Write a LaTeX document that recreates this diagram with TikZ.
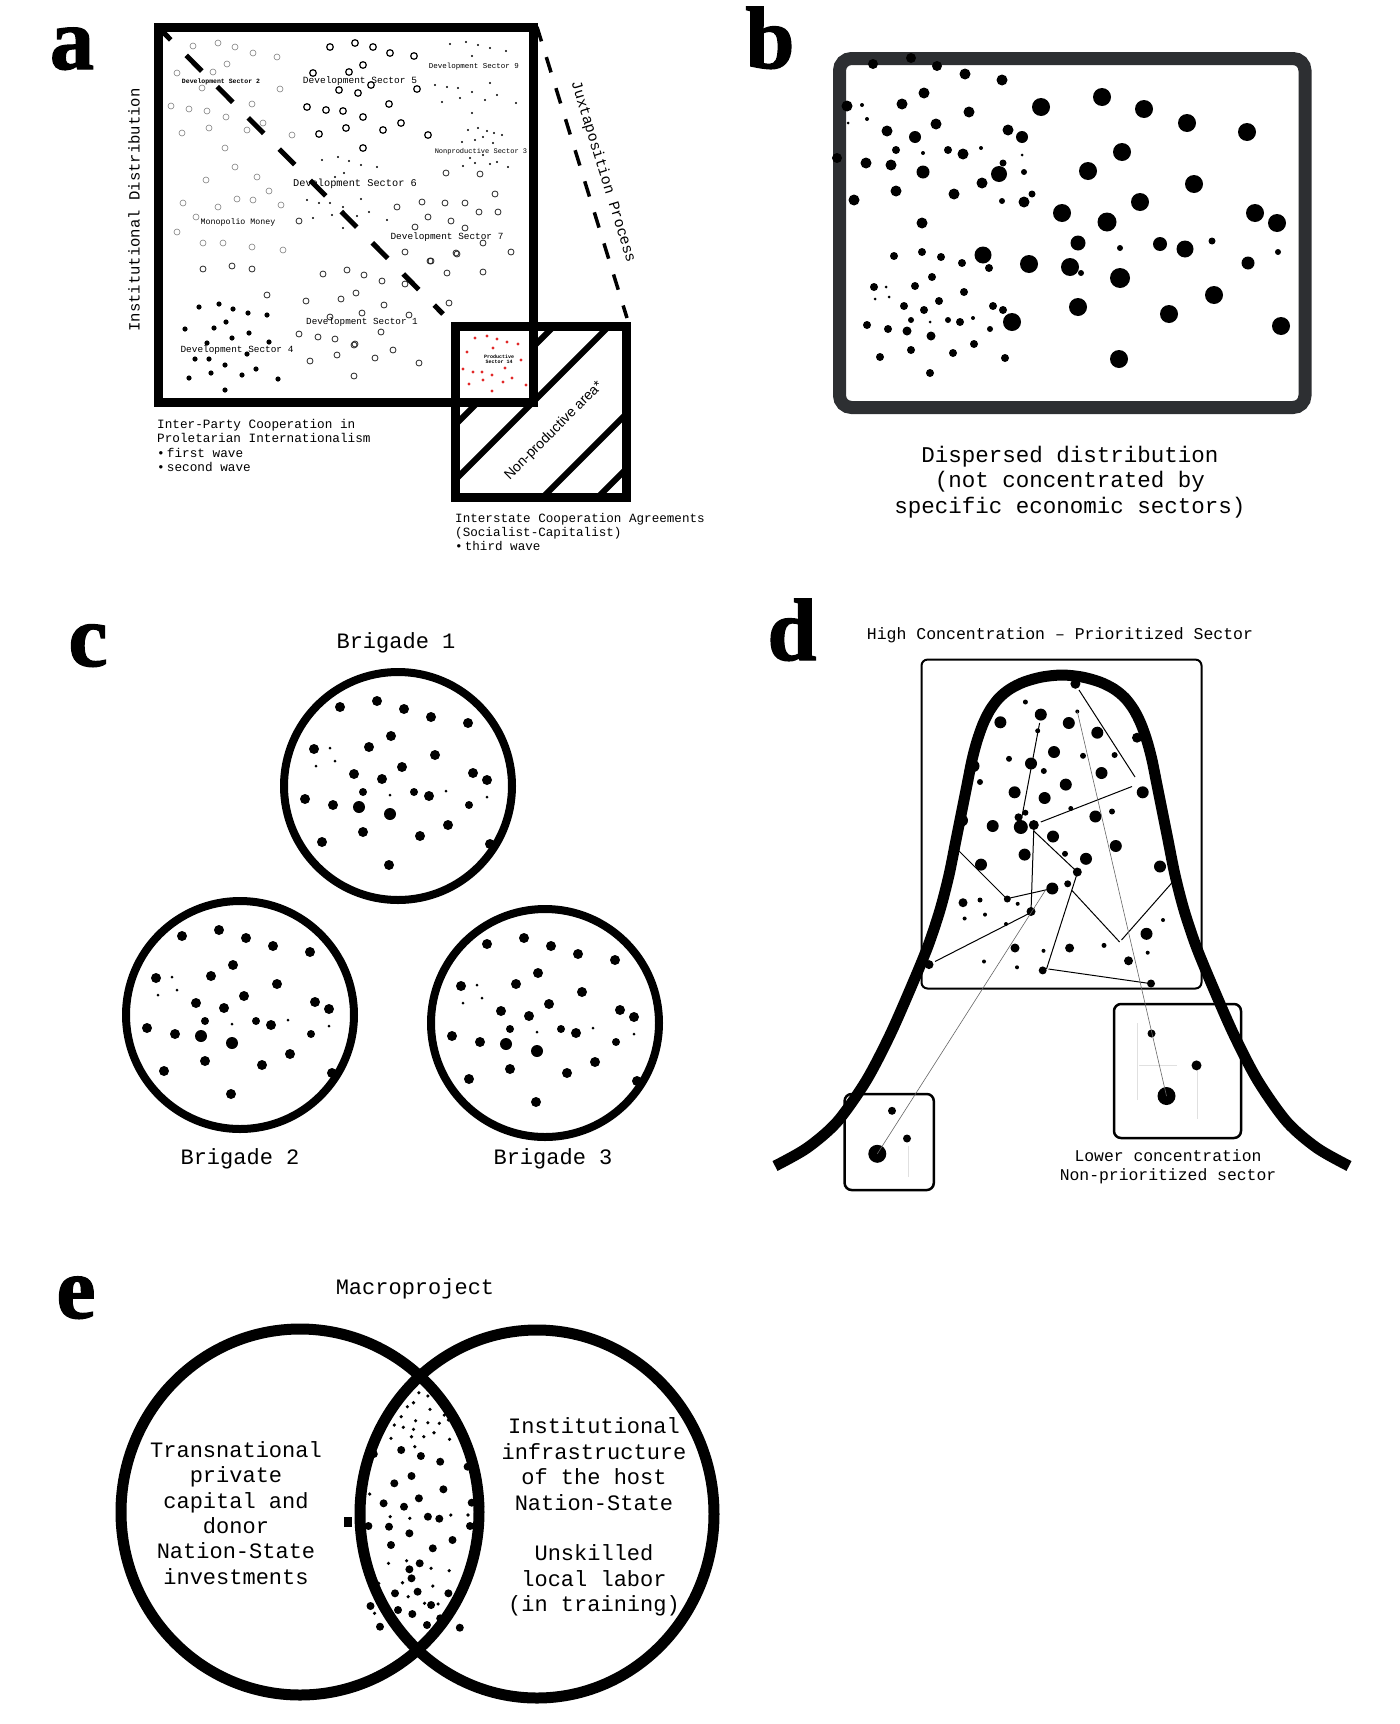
\documentclass[tikz,border=0pt]{standalone}
\usepackage{fontspec}
\setmainfont{Liberation Serif}
\setmonofont{Liberation Mono}
\newfontfamily\sansf{Liberation Sans}
\newfontfamily\lblf{Liberation Serif}[BoldFeatures={FakeBold=1.6}]
\definecolor{bgray}{RGB}{45,47,50}
\definecolor{dred}{RGB}{225,40,40}
\begin{document}
\begin{tikzpicture}[x=1pt,y=-1pt,
  plabel/.style={font=\lblf\bfseries\fontsize{88}{88}\selectfont, inner sep=0, anchor=base, text height=0.66em, text depth=0pt},
  mono/.style={font=\ttfamily, inner sep=0},
  tiny/.style={font=\ttfamily\bfseries, inner sep=0},
  hol/.style={draw=black, line width=1.2pt},
  holf/.style={draw=black!50, line width=0.6pt},
  holm/.style={draw=black!85, line width=0.8pt},
  hatch/.style={line width=6pt},
  thinlink/.style={line width=1pt},
  faintlink/.style={line width=0.6pt, draw=black!60},
  ghost/.style={line width=1pt, draw=black!12},
]
\useasboundingbox[fill=white] (0,0) rectangle (1400,1724);

% ---------------- panel labels
\node[plabel] (la) at (72,69) {a};
\node[plabel] (lb) at (770,68) {b};
\node[plabel] (lc) at (88,666) {c};
\node[plabel] (ld) at (792,660) {d};
\node[plabel] (le) at (76,1318) {e};

% ================= PANEL A
% hatched small square
\begin{scope}
  \clip (455,326) rectangle (626,497);
  \foreach \cc in {880,935,1040,1095}
    \draw[hatch] ({\cc-700},700) -- (700,{\cc-700});
\end{scope}
\fill[white] (455,326) rectangle (533,402);
\foreach \x/\y in {475/338,487/336,497/339,507/342,518/344,493/348,467/352,521/360,463/369,473/372,482/372,492/375,505/368,512/378,469/384,483/380,503/382,492/391,526/385}
  \fill[dred] (\x,\y) circle[radius=1.6pt];
\node[tiny, align=center, font=\ttfamily\bfseries\fontsize{5}{5.5}\selectfont] (ps14) at (499,359) {Productive\\Sector 14};
\node[font=\sansf\fontsize{14}{14}\selectfont, rotate=45, inner sep=0] (npa) at (554,431) {Non-productive area*};

% circles in big square
\foreach \x/\y in {330/47,355/43,373/47,390/53,414/56,363/65,313/73,349/72,371/85,339/90,358/93,417/89,307/107,326/110,343/111,389/104,363/117,401/123,346/128,319/134,383/130,428/135,363/148}
  \draw[hol] (\x,\y) circle[radius=3.3pt];
\foreach \x/\y in {193/46,218/43,235/47,253/53,277/57,227/64,177/73,213/72,202/88,280/89,171/106,189/109,207/111,226/117,252/104,209/128,182/133,247/130,263/123,292/135,225/148,235/167,206/180,257/177,269/191,183/203,218/207,237/199,253/200,281/205,196/217,177/232,203/243,223/243,252/247,283/250}
  \draw[holf] (\x,\y) circle[radius=3pt];
\foreach \x/\y in {446/173,480/174,495/194,422/202,445/203,465/203,397/207,428/217,451/221,479/212,498/212,415/227,465/228,483/243,405/252,430/261,456/253,511/252,299/221,203/269,232/266,252/269,267/295,323/274,347/270,364/275,382/281,405/284,356/293,306/301,341/299,384/305,449/303,362/313,330/317,409/315,299/334,318/337,335/339,381/332,355/344,447/273,483/272,431/261,457/254,310/361,337/355,375/358,393/350,419/363,354/376,354/345}
  \draw[holm] (\x,\y) circle[radius=3pt];
\foreach \x/\y in {450/44,466/42,478/45,490/48,506/51,472/56,435/85,447/87,458/88,472/92,490/83,442/102,460/98,485/100,497/95,516/103,472/113,468/130,478/128,487/131,494/133,502/135,462/142,475/140,483/137,493/143,463/166,475/163,490/164,497/162,508/167,483/155,470/158,322/160,338/157,349/161,361/165,377/167,344/173,335/177,307/200,319/203,330/203,361/199,343/207,313/218,332/215,357/216,369/212,387/220,343/228}
  \fill (\x,\y) circle[radius=1.2pt];
\foreach \x/\y in {199/307,219/304,233/309,248/313,267/315,185/329,214/328,226/322,249/333,232/338,207/343,269/342,195/359,209/359,225/365,247/354,256/369,189/378,211/373,242/375,278/379,225/390}
  \fill (\x,\y) circle[radius=2.6pt];

% sector labels
\node[tiny, font=\ttfamily\bfseries\fontsize{6.5}{6.5}\selectfont] (s2) at (221,82) {Development Sector 2};
\node[tiny, font=\ttfamily\fontsize{9.5}{9.5}\selectfont] (s5) at (360,81) {Development Sector 5};
\node[tiny, font=\ttfamily\fontsize{7.5}{7.5}\selectfont] (s9) at (474,67) {Development Sector 9};
\node[tiny, font=\ttfamily\fontsize{7}{7}\selectfont] (s3) at (481,152) {Nonproductive Sector 3};
\node[tiny, font=\ttfamily\fontsize{10.3}{10.3}\selectfont] (s6) at (355,184) {Development Sector 6};
\node[tiny, font=\ttfamily\fontsize{8.3}{8.3}\selectfont] (mm) at (238,222) {Monopolio Money};
\node[tiny, font=\ttfamily\fontsize{9.4}{9.4}\selectfont] (s7) at (447,237) {Development Sector 7};
\node[tiny, font=\ttfamily\fontsize{9.3}{9.3}\selectfont] (s1) at (362,322) {Development Sector 1};
\node[tiny, font=\ttfamily\fontsize{9.4}{9.4}\selectfont] (s4) at (237,350) {Development Sector 4};

% dashed diagonal
\draw[line width=5pt, dash pattern=on 22pt off 22pt, dash phase=11pt] (163,32) -- (443,314);
% squares
\draw[line width=9pt] (158.5,27.5) rectangle (533,402);
\draw[line width=9pt] (455,326) rectangle (626,497);
% juxtaposition
\coordinate (j1) at (537,27);
\coordinate (j2) at (627,318);
\draw[line width=3.5pt, dash pattern=on 16pt off 16.5pt, dash phase=1pt] (j1) -- (j2);
\node[mono, font=\ttfamily\fontsize{15}{15}\selectfont, rotate=-72.8] (jux) at (603,172) {Juxtaposition Process};
\node[mono, font=\ttfamily\fontsize{15.6}{15.6}\selectfont, rotate=90] (inst) at (134,210) {Institutional Distribution};
% bottom texts
\node[mono, anchor=north west, align=left, font=\ttfamily\fontsize{12.7}{14.3}\selectfont] (ipc) at (157,419)
 {Inter-Party Cooperation in\\Proletarian Internationalism\\\textbullet\,first wave\\\textbullet\,second wave};
\node[mono, anchor=north west, align=left, font=\ttfamily\fontsize{12.6}{14.3}\selectfont] (ica) at (455,513)
 {Interstate Cooperation Agreements\\(Socialist-Capitalist)\\\textbullet\,third wave};

% ================= PANEL B
\draw[line width=13pt, draw=bgray, rounded corners=12pt] (839.5,58.5) rectangle (1305,407.5);
\foreach \x/\y/\rr in {873/64/5,911/58/5,937/66/5,965/74/5.5,1002/80/5.5,924/93/5.5,847/106/5.5,862/105/2,867/119/2,848/123/1.5,902/104/5.5,969/112/5.5,887/131/5.5,915/137/6,936/124/5.5,1008/130/5.5,1022/137/6,896/150/4,948/150/4,963/154/5.5,981/148/2,923/153/2,1022/155/1.5,837/158/5,866/163/5.5,891/165/5.5,923/172/6.5,999/174/8,1003/163/3.5,1024/172/3,982/183/5.5,896/191/5.5,954/194/5.5,854/200/5.5,1002/201/3,1024/202/5.5,1032/194/3.5,1041/107/9,1102/97/9,1144/109/9,1187/123/9,1247/132/9,1122/152/9,1088/171/9,1194/184/9,1140/202/9,1062/213/9,1107/222/9.5,1255/213/9,1277/223/9,922/223/5.5,1078/243/7.5,1120/248/3,1160/244/7,1185/249/8.5,1212/241/3.5,1278/252/3,1248/263/6.5,983/255/8.5,989/268/4,1029/264/9,1070/267/9,1081/273/3,1120/278/10,1214/295/9,1078/307/9,1169/314/9,1281/326/9,1119/359/9,894/256/4,922/252/4,941/257/4,962/263/4,932/277/4,915/286/4,874/287/4,886/287/1.5,875/299/1.5,889/297/1.5,964/292/4,939/301/4,904/306/4,924/310/4,993/306/4,1003/310/4,1012/322/9,867/325/4,888/329/4,907/331/4.5,911/320/3,930/322/1.5,948/320/3,960/322/4,973/318/2,931/336/4.5,990/329/3,974/344/4,911/350/4,953/353/4,880/357/4,1005/358/4,930/373/4}
  \fill (\x,\y) circle[radius=\rr pt];
\node[mono, align=center, font=\ttfamily\fontsize{22.5}{25.7}\selectfont] (dd) at (1070,482)
 {Dispersed distribution\\(not concentrated by\\specific economic sectors)};

% ================= PANEL C
\newcommand\brigdots[2]{%
  \foreach \dx/\dy/\rr in {-58/-79/5,-21/-85/5,6/-77/5,33/-69/5,70/-63/5,-7/-50/5,-84/-37/5,-68/-38/1.5,-29/-39/5,-82/-20/1.5,-63/-25/1.5,37/-31/5,4/-19/5,-44/-12/5,-16/-7/5,75/-13/5,89/-6/5,-93/13/5,-35/6/4,-8/9/1.5,16/6/4,31/10/5,48/5/1.5,71/19/4,89/11/1.5,-65/19/5,-39/21/6,-8/28/6,50/39/5,-35/46/5,22/50/5,-76/56/5,92/58/5,-9/79/5}
    \fill ({#1+\dx},{#2+\dy}) circle[radius=\rr pt];}
\draw[line width=8pt] (398,786) circle[radius=114pt];
\draw[line width=8pt] (240,1015) circle[radius=114pt];
\draw[line width=8pt] (545,1023) circle[radius=114pt];
\brigdots{398}{786}
\brigdots{240}{1015}
\brigdots{545}{1023}
\node[mono, font=\ttfamily\fontsize{22}{22}\selectfont] (b1) at (396,643) {Brigade 1};
\node[mono, font=\ttfamily\fontsize{22}{22}\selectfont] (b2) at (240,1159) {Brigade 2};
\node[mono, font=\ttfamily\fontsize{22}{22}\selectfont] (b3) at (553,1159) {Brigade 3};

% ================= PANEL D
\node[mono, font=\ttfamily\fontsize{16.5}{16.5}\selectfont] (hc) at (1060,635) {High Concentration – Prioritized Sector};
\draw[line width=2pt, rounded corners=6pt] (921.5,659.6) rectangle (1201.5,988.5);
\draw[line width=2.5pt, rounded corners=7pt] (844.6,1094) rectangle (933.8,1190);
\draw[line width=2.5pt, rounded corners=7pt] (1114,1004) rectangle (1241,1138);
\draw[ghost] (1137,1023) -- (1137,1100);
\draw[ghost] (1197.7,1065) -- (1197.7,1119);
\draw[ghost] (1139,1065) -- (1177,1065);
\draw[ghost] (908,1146) -- (908,1177);
\draw[line width=11pt] plot[smooth, tension=0.5] coordinates {
 (775,1166) (807,1148) (837,1122) (866,1081) (890,1035) (912,985) (928,946) (940,910) (949,875) (956,840) (962,810) (967,785) (972,760) (977,741) (983,724) (990,710) (999,698) (1010,689) (1024,682) (1042,677) (1062,675)
 (1082,677) (1100,682) (1114,689) (1125,698) (1134,710) (1141,724) (1147,741) (1152,760) (1157,785) (1162,810) (1168,840) (1175,875) (1184,910) (1196,946) (1212,985) (1234,1035) (1258,1081) (1287,1122) (1317,1148) (1349,1166)};
\foreach \x/\y/\rr in {1075.4/683.8/5,1025.4/702/2.5,1040.8/714.6/6,1000.4/722.3/6,1068.8/723/6,1097.3/732.7/6,1077.3/711.5/2,1037.7/730.8/2.5,1137/737.7/5,1054/752/6,1009/758.8/3,1083/755.8/3,1114.6/755/3,1031/763.5/6,973.5/766/6,1043.8/771/3,1101.5/773/6,980/782/3,1065.8/784.6/6,1014.6/792.3/6,1044.6/798/6,1142.7/792.3/6,1070.8/808.5/2.5,1025.4/812.7/3,1018.5/817.3/4,1095.4/816.5/6,1112/811.5/3,962/820.4/6,992.7/826/6,1020.8/827/7,1033.8/825/5,1053/836.5/6,1115.8/846/6,1024.6/854.6/6,1065/853.8/3,1086/858.8/6,981/864.6/6,1160/866.5/6,1077.3/872/4.5,1052.3/888.5/6,1067.7/883.8/3.5,1007.3/899/3.5,963/902.7/4.5,980/900/2.5,1017.7/903.8/2,1031/911.5/4.5,940/909.6/2,964.6/918.5/2,985/914.6/2,1006/924/2,1163/920/2,1146.5/933.8/6,1015/948/4.5,1043.5/950.8/2,1069.6/948/4.5,1104/945.4/2.5,1147.7/952.7/2,984/961.5/2,1017/967.3/2,1128.5/960.8/4.5,929/964.6/4.5,1042.7/970.4/4,1151/983.5/4,1151.5/1033.5/4,1196.5/1065.4/5,1166.5/1096/9,892/1110.8/4,907/1138.5/4,877.3/1153.8/9}
  \fill (\x,\y) circle[radius=\rr pt];
\foreach \xa/\ya/\xb/\yb in {1079/690/1135/777,1039.6/723/1021.5/819,1040.8/822/1132/786.5,954/846/1006/898,1010/898/1052/888.5,1033.8/829/1031/911.5,1033.8/831/1077.3/872,1077.3/873/1046.5/969,935/961.5/1029/913.5,1071.5/890/1119.6/942,1121.5/940/1172/882.7,1048.5/969/1150/983.5}
  \draw[thinlink] (\xa,\ya) -- (\xb,\yb);
\draw[faintlink] (1077.3,711.5) -- (1166.5,1096);
\draw[faintlink] (1046.5,888.5) -- (877.3,1153.8);
\node[mono, align=center, font=\ttfamily\fontsize{16.4}{19.2}\selectfont] (lc2) at (1168,1167)
 {Lower concentration\\Non-prioritized sector};

% ================= PANEL E
\node[mono, font=\ttfamily\fontsize{22}{22}\selectfont] (mp) at (415,1289) {Macroproject};
\draw[line width=11pt] (300,1512) ellipse[x radius=179pt, y radius=183pt];
\draw[line width=11pt] (537,1514) ellipse[x radius=177pt, y radius=184pt];
\foreach \x/\y in {373.8/1454,401.2/1450,420.9/1456,440.2/1461.7,467.6/1466.7,394.3/1483.3,411.5/1476,443.4/1489.3,383.6/1503.3,404/1506.7,418.9/1498.3,471.7/1502.7,368.4/1526,389/1526.7,409.4/1533.3,427.9/1516.7,439.3/1518.7,452.5/1540,391/1545,432.8/1548.3,409.4/1569.3,411.5/1578.3,419.7/1563.3,448.4/1593.3,395/1593.3,417.6/1591.7,370.5/1606,398/1610,431.1/1605,440.2/1618.3,412.3/1614,380/1626.7,427/1625,459.8/1627.7,470/1526,480.3/1506.7}
  \fill (\x,\y) circle[radius=4pt];
\foreach \x/\y in {403.3/1390.7,418.9/1392.7,427.9/1396,442.2/1396,413.5/1402.7,394.3/1406.7,407.4/1406.7,430/1409.3,444.3/1415,401.2/1416.7,415.6/1420.7,427.9/1422.7,382.8/1423.3,394.3/1425,403.3/1427.3,413.5/1429.3,439.3/1423.3,448.4/1420,411.5/1436.7,434/1432.7,391/1438.3,423.8/1436.7,449.6/1439.3,414.8/1446.7,366.4/1484,369.7/1494,390.2/1516.7,409.8/1518.3,450.8/1515,468/1515,388.5/1563.3,406.6/1560.7,431.1/1568.3,449.2/1570.7,378.7/1583.3,402.5/1582.7,432.8/1586,382.8/1600,408.2/1596.7,424.6/1603.3,438.1/1604,450.4/1610,457.4/1598.3,386.9/1618.3,374.6/1613.3}
  \fill (\x,\y) circle[radius=1.8pt];
\fill (344,1517) rectangle (352,1527);
\node[mono, align=center, font=\ttfamily\fontsize{22}{25.4}\selectfont] (tl) at (236,1513)
 {Transnational\\private\\capital and\\donor\\Nation-State\\investments};
\node[mono, align=center, font=\ttfamily\fontsize{22}{25.4}\selectfont] (tr) at (594,1517)
 {Institutional\\infrastructure\\of the host\\Nation-State\\[25.4pt]Unskilled\\local labor\\(in training)};
\end{tikzpicture}
\end{document}
